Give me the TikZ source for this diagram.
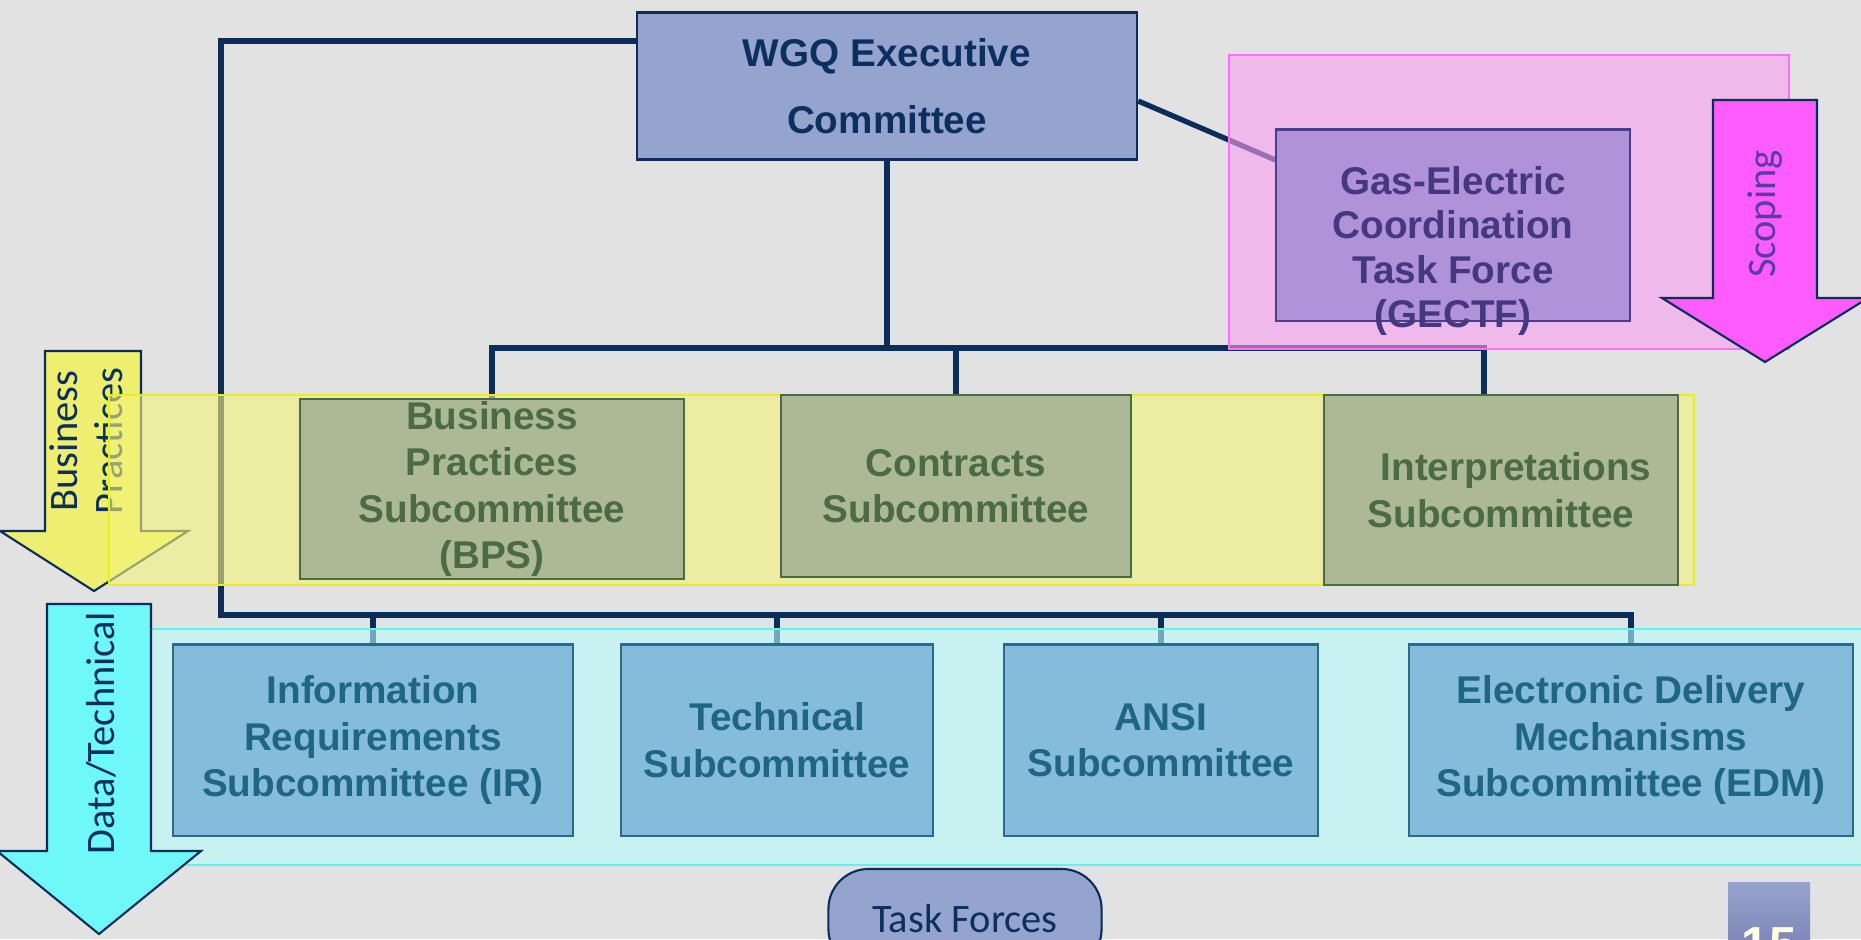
\documentclass[tikz,border=0pt]{standalone}
\usepackage{fontspec}
\setmainfont{Liberation Sans}
\newfontfamily\lblfont{Carlito}
\usepackage{xcolor}
\usepackage{tikz}

\definecolor{bggray}{RGB}{226,226,226}
\definecolor{navyline}{RGB}{10,45,90}
\definecolor{navytext}{RGB}{11,47,94}
\definecolor{execfill}{RGB}{149,163,207}
\definecolor{gectffill}{RGB}{176,146,217}
\definecolor{gectfline}{RGB}{74,61,138}
\definecolor{gectftext}{RGB}{70,56,127}
\definecolor{pinkband}{RGB}{249,158,241}
\definecolor{pinkedge}{RGB}{255,110,255}
\definecolor{scopefill}{RGB}{255,92,255}
\definecolor{scopetext}{RGB}{90,60,160}
\definecolor{yellowband}{RGB}{244,244,122}
\definecolor{yellowedge}{RGB}{230,240,30}
\definecolor{bpfill}{RGB}{238,238,112}
\definecolor{greenfill}{RGB}{173,185,150}
\definecolor{greenline}{RGB}{74,107,70}
\definecolor{cyanband}{RGB}{183,253,253}
\definecolor{cyanedge}{RGB}{94,242,242}
\definecolor{dtfill}{RGB}{110,248,248}
\definecolor{bluefill}{RGB}{133,187,219}
\definecolor{blueline}{RGB}{42,106,138}
\definecolor{bluetext}{RGB}{31,101,133}
\definecolor{pagetop}{RGB}{150,162,208}
\definecolor{pagebot}{RGB}{112,118,168}
\definecolor{pagetext}{RGB}{255,255,225}

\newcommand\boxfont{\fontsize{11}{13.2}\selectfont\bfseries}

\pgfdeclarelayer{back}
\pgfdeclarelayer{bands}
\pgfsetlayers{back,bands,main}

\begin{document}
\begin{tikzpicture}[x=0.01cm, y=-0.01cm,
  bus/.style={draw=navyline, line width=1.5pt},
  execbox/.style={draw=navyline, line width=0.6pt, fill=execfill, text=navytext,
    font=\boxfont, align=center, inner sep=0pt},
  gectfbox/.style={draw=gectfline, line width=0.6pt, fill=gectffill, inner sep=0pt},
  greenbox/.style={draw=greenline, line width=0.6pt, fill=greenfill, text=greenline,
    font=\boxfont, align=center, inner sep=0pt},
  bluebox/.style={draw=blueline, line width=0.6pt, fill=bluefill, text=bluetext,
    font=\boxfont, align=center, inner sep=0pt, minimum height=1.91cm},
  band/.style={line width=0.8pt, fill opacity=0.6},
  fatarrow/.style={draw=navyline, line width=0.6pt},
  arrowlabel/.style={font=\lblfont\fontsize{11.5}{12.8}\selectfont, text=navytext,
    align=center, rotate=90, inner sep=0pt},
]
  \useasboundingbox (0,0) rectangle (1861,939);
  \clip (0,0) rectangle (1861,939);

  % Nodes
  \node[execbox, minimum width=5.00cm, minimum height=1.47cm] (exec) at (887,86)
    {WGQ Executive\\[6pt]Committee};
  \node[gectfbox, minimum width=3.53cm, minimum height=1.91cm] (gectf) at (1453,225) {};
  \node[font=\fontsize{11}{12.6}\selectfont\bfseries, text=gectftext, align=center,
    inner sep=0pt] (gectftxt) at (1453,251)
    {Gas-Electric\\Coordination\\Task Force\\(GECTF)};

  \node[greenbox, minimum width=3.83cm, minimum height=1.80cm] (bps) at (492,489)
    {Business\\Practices\\Subcommittee\\(BPS)};
  \node[greenbox, minimum width=3.49cm, minimum height=1.82cm] (contracts) at (956,486)
    {Contracts\\Subcommittee};
  \node[greenbox, minimum width=3.53cm, minimum height=1.90cm] (interp) at (1501,490)
    {\hspace*{0.3cm}Interpretations\\Subcommittee};

  \node[bluebox, minimum width=3.99cm] (ir) at (373,740)
    {Information\\Requirements\\Subcommittee (IR)};
  \node[bluebox, minimum width=3.11cm] (tech) at (777,740)
    {Technical\\Subcommittee};
  \node[bluebox, minimum width=3.13cm] (ansi) at (1161,740)
    {ANSI\\Subcommittee};
  \node[bluebox, minimum width=4.43cm] (edm) at (1631,740)
    {Electronic Delivery\\Mechanisms\\Subcommittee (EDM)};

  \node[draw=navyline, line width=0.6pt, fill=execfill, rounded corners=0.4cm,
    minimum width=2.73cm, minimum height=1.0cm, text=navytext,
    font=\lblfont\fontsize{11.5}{13}\selectfont] (taskforces) at (965,919) {Task Forces};
  \node[top color=pagetop, bottom color=pagebot, anchor=north, inner sep=0pt,
    minimum width=0.82cm, text height=0.79cm, text depth=0.2cm, text=pagetext,
    font=\fontsize{14}{14}\selectfont\bfseries] (page) at (1769,882) {15};

  % Edges
  \begin{pgfonlayer}{back}
    \fill[bggray] (0,0) rectangle (1861,939);
    \coordinate (lcorner) at (221,41);
    \coordinate (topbus) at (877,348);
    \coordinate (lowbus) at (221,615);
    \draw[bus] (exec.west |- lcorner) -- (lcorner) -- (lowbus) -- (lowbus -| edm.north) -- (edm.north);
    \foreach \n in {ir, tech, ansi}
      \draw[bus] (\n.north) -- (\n.north |- lowbus);
    \draw[bus] (topbus -| exec.south) -- (exec.south);
    \draw[bus] (bps.north) -- (bps.north |- topbus)
      -- ([xshift=-0.17cm]interp.north |- topbus) -- ([xshift=-0.17cm]interp.north);
    \draw[bus] (contracts.north) -- (contracts.north |- topbus);
    \draw[bus] ([yshift=-0.15cm]exec.east) -- ([yshift=0.65cm]gectf.west);

    % Business practices arrow, under its band
    \draw[fatarrow, fill=bpfill] (45,351) -- (141,351) -- (141,531) -- (188,531)
      -- (94,591) -- (0,531) -- (45,531) -- cycle;
    \node[arrowlabel] (bptext) at (86,441) {Business\\Practices};
  \end{pgfonlayer}

  % Bands
  \begin{pgfonlayer}{bands}
    \draw[band, draw=pinkedge, fill=pinkband] (1229,55) rectangle (1789,349);
    \draw[band, draw=yellowedge, fill=yellowband] (109,395) rectangle (1694,585);
    \draw[band, draw=cyanedge, fill=cyanband] (150,629) rectangle (1870,865);
  \end{pgfonlayer}

  % Arrows
  \draw[fatarrow, fill=dtfill] (47,604) -- (151,604) -- (151,851) -- (201,851)
    -- (99,934) -- (-3,851) -- (47,851) -- cycle;
  \node[arrowlabel] (dttext) at (101,733) {Data/Technical};
  \draw[fatarrow, fill=scopefill] (1713,100) -- (1817,100) -- (1817,298) -- (1868,298)
    -- (1765,362) -- (1662,298) -- (1713,298) -- cycle;
  \node[arrowlabel, text=scopetext] (scopetext) at (1765,214) {Scoping};
\end{tikzpicture}
\end{document}
